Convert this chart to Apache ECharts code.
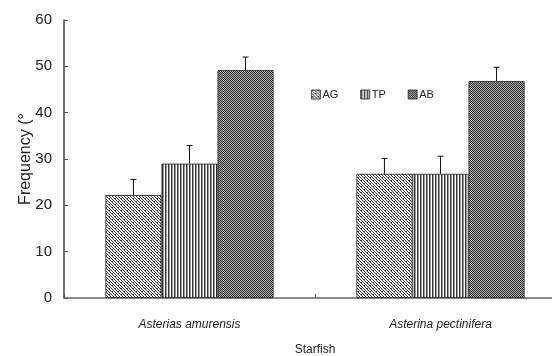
<!DOCTYPE html>
<html>
<head>
<meta charset="utf-8">
<script src="https://cdn.jsdelivr.net/npm/echarts@6/dist/echarts.min.js"></script>
<style>
  html, body { margin: 0; padding: 0; background: #fff; }
  #chart { width: 552px; height: 356px; }
</style>
</head>
<body>
<div id="chart"></div>
<script>
  // data
  var categories = ['Asterias amurensis', 'Asterina pectinifera']
  var seriesNames = ['AG', 'TP', 'AB']
  var agValues = [22.2, 26.8]
  var tpValues = [29.0, 26.8]
  var abValues = [49.2, 46.8]
  var agErr = [3.4, 3.3]
  var tpErr = [3.9, 3.8]
  var abErr = [2.8, 3.0]
  var yTicks = [0, 10, 20, 30, 40, 50, 60]

  // hatch fills, drawn on small canvases
  function makePattern(kind) {
    var c = document.createElement('canvas')
    var ctx = c.getContext('2d')
    if (kind === 'diag') {
      c.width = 6; c.height = 6
      ctx.fillStyle = '#fff'; ctx.fillRect(0, 0, 6, 6)
      ctx.fillStyle = '#3a3a3a'
      for (var i = 0; i < 6; i++) {
        ctx.fillRect(i, i, 1, 1)
        ctx.fillRect((i + 3) % 6, i, 1, 1)
        if (i % 3 === 0) ctx.fillRect((i + 1) % 6, i, 1, 1)
      }
    } else if (kind === 'vert') {
      c.width = 3; c.height = 4
      ctx.fillStyle = '#fff'; ctx.fillRect(0, 0, 3, 4)
      ctx.fillStyle = '#3a3a3a'; ctx.fillRect(0, 0, 1, 4)
      ctx.fillStyle = '#999'; ctx.fillRect(1, 0, 1, 4)
    } else {
      c.width = 2; c.height = 2
      ctx.fillStyle = '#b5b5b5'; ctx.fillRect(0, 0, 2, 2)
      ctx.fillStyle = '#262626'
      ctx.fillRect(0, 0, 1, 1); ctx.fillRect(1, 1, 1, 1)
    }
    return { image: c, repeat: 'repeat' }
  }

  var fills = [makePattern('diag'), makePattern('vert'), makePattern('check')]
  var values = [agValues, tpValues, abValues]
  var errs = [agErr, tpErr, abErr]

  var chart = echarts.init(document.getElementById('chart'))

  var series = []
  seriesNames.forEach(function(name, k) {
    series.push({
      name: name,
      type: 'bar',
      barGap: 0,
      barCategoryGap: '33%',
      data: values[k],
      itemStyle: {
        color: fills[k],
        borderColor: '#222',
        borderWidth: 0.8
      }
    })
  })

  // error bars (upper only), placed over the middle of each bar
  var errData = []
  for (var k = 0; k < 3; k++) {
    for (var i = 0; i < categories.length; i++) {
      errData.push([i, values[k][i], values[k][i] + errs[k][i], k])
    }
  }
  series.push({
    type: 'custom',
    name: 'err',
    data: errData,
    z: 10,
    renderItem: function(params, api) {
      var ci = api.value(0)
      var bandW = api.size([1, 0])[0]
      var barW = bandW * 0.67 / 3
      var off = (api.value(3) - 1) * barW
      var p0 = api.coord([ci, api.value(1)])
      var p1 = api.coord([ci, api.value(2)])
      var x = p0[0] + off
      var style = { stroke: '#111', lineWidth: 1 }
      return {
        type: 'group',
        children: [
          { type: 'line', shape: { x1: x, y1: p0[1], x2: x, y2: p1[1] }, style: style },
          { type: 'line', shape: { x1: x - 3, y1: p1[1], x2: x + 3, y2: p1[1] }, style: style }
        ]
      }
    }
  })

  var option = {
    animation: false,
    textStyle: { fontFamily: 'Liberation Sans, Arial, sans-serif' },
    legend: {
      data: seriesNames,
      left: 306,
      top: 84,
      itemWidth: 9,
      itemHeight: 9,
      itemGap: 22,
      icon: 'rect',
      textStyle: { fontSize: 11, color: '#222', padding: [0, 0, 0, -3] },
      itemStyle: { borderColor: '#222', borderWidth: 0.8 }
    },
    grid: {
      left: 64,
      right: -14,
      top: 20,
      bottom: 58,
      containLabel: false,
      outerBoundsMode: 'none'
    },
    xAxis: {
      type: 'category',
      data: categories,
      name: 'Starfish',
      nameLocation: 'middle',
      nameGap: 46,
      nameTextStyle: { fontSize: 12, color: '#222' },
      axisLine: { lineStyle: { color: '#666', width: 1.5 } },
      axisTick: { show: true, inside: true, length: 4, lineStyle: { color: '#555' } },
      axisLabel: { fontSize: 12, fontStyle: 'italic', color: '#222', margin: 21 }
    },
    yAxis: {
      type: 'value',
      min: yTicks[0],
      max: yTicks[yTicks.length - 1],
      interval: 10,
      name: 'Frequency (°',
      nameLocation: 'middle',
      nameGap: 30,
      nameMoveOverlap: false,
      nameTextStyle: { fontSize: 16, color: '#222' },
      axisLine: { show: true, lineStyle: { color: '#444', width: 1.5 } },
      axisTick: { show: true, inside: true, length: 4, lineStyle: { color: '#555' } },
      axisLabel: { fontSize: 15, color: '#222', margin: 12 },
      splitLine: { show: false }
    },
    series: series
  }
  chart.setOption(option)
</script>
</body>
</html>
